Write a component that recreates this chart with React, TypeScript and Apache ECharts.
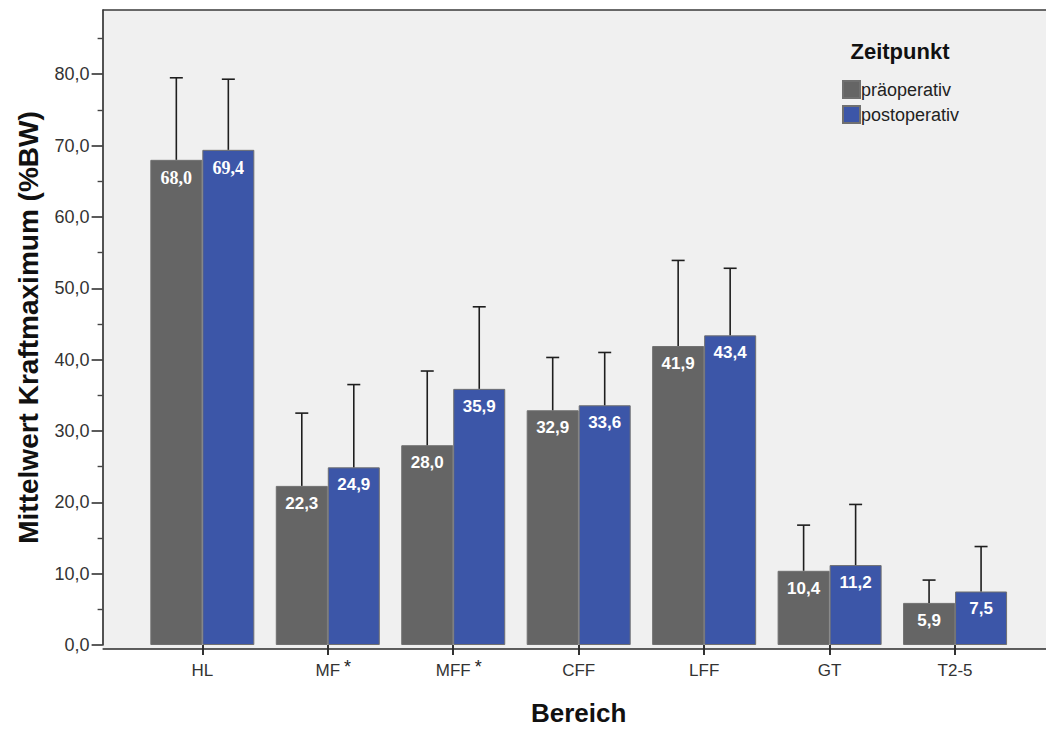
import React, { useEffect, useRef } from "react";
import * as echarts from "echarts";

const categories = ["HL", "MF", "MFF", "CFF", "LFF", "GT", "T2-5"];
const significant = ["MF", "MFF"];
const seriesNames = ["präoperativ", "postoperativ"];
const preValues = [68.0, 22.3, 28.0, 32.9, 41.9, 10.4, 5.9];
const postValues = [69.4, 24.9, 35.9, 33.6, 43.4, 11.2, 7.5];
const preUpper = [79.5, 32.5, 38.4, 40.3, 53.9, 16.8, 9.1];
const postUpper = [79.3, 36.5, 47.4, 41.0, 52.8, 19.7, 13.8];
const yMajorTicks = [0, 10, 20, 30, 40, 50, 60, 70, 80];
const yMinorTicks = [5, 15, 25, 35, 45, 55, 65, 75, 85];
const yMax = 89;

const FONT = '"Liberation Sans", Arial, sans-serif';
const SERIF = '"Liberation Serif", "Times New Roman", serif';
const W = 1046;
const H = 731;
const GRID = { left: 139.6, right: 28.2, top: 10, bottom: 82 };
const FRAME_LEFT = 102.6;
const BAR_W = 52;
const C_PRE = "#656565";
const C_POST = "#3c56a8";
const BORDER = "#707070";

const fmt = (v: number) => v.toFixed(1).replace(".", ",");

function errorSeries(upper: number[], values: number[], dx: number) {
  return {
    type: "custom",
    xAxisIndex: 0,
    yAxisIndex: 0,
    z: 5,
    silent: true,
    encode: { x: 0, y: 1 },
    data: upper.map((u, i) => [i, u, values[i]]),
    renderItem: (params: any, api: any) => {
      const i = api.value(0);
      const top = api.coord([i, api.value(1)]);
      const base = api.coord([i, api.value(2)]);
      const x = top[0] + dx;
      const st = { stroke: "#1e1e1e", lineWidth: 1.6 };
      return {
        type: "group",
        children: [
          { type: "line", shape: { x1: x, y1: base[1], x2: x, y2: top[1] }, style: st },
          { type: "line", shape: { x1: x - 6.5, y1: top[1], x2: x + 6.5, y2: top[1] }, style: st },
        ],
      };
    },
  };
}

function barSeries(name: string, values: number[], color: string) {
  return {
    type: "bar",
    name,
    barWidth: BAR_W,
    barGap: "0%",
    z: 2,
    itemStyle: { color, borderColor: BORDER, borderWidth: 1 },
    label: {
      show: true,
      position: "insideTop",
      distance: 9,
      color: "#ffffff",
      fontWeight: "bold",
      fontSize: 17,
      fontFamily: FONT,
      formatter: (p: any) => fmt(p.value),
    },
    data: values.map((v, i) =>
      i === 0
        ? { value: v, label: { fontFamily: SERIF, fontSize: 18 } }
        : { value: v }
    ),
  };
}

export default function App() {
  const ref = useRef<HTMLDivElement>(null);

  useEffect(() => {
    document.body.style.margin = "0";
    document.body.style.overflow = "hidden";
    document.documentElement.style.overflow = "hidden";
    if (!ref.current) return;
    const chart = echarts.init(ref.current, undefined, { renderer: "svg" });
    const plotBottom = H - GRID.bottom;

    const frameGraphics: any[] = [
      {
        type: "rect",
        z: -10,
        silent: true,
        shape: { x: FRAME_LEFT, y: GRID.top, width: W - FRAME_LEFT, height: plotBottom - GRID.top },
        style: { fill: "#f0f0f0" },
      },
      {
        type: "line",
        z: 10,
        silent: true,
        shape: { x1: FRAME_LEFT, y1: GRID.top, x2: W, y2: GRID.top },
        style: { stroke: "#3a3a3a", lineWidth: 1.5 },
      },
      {
        type: "line",
        z: 10,
        silent: true,
        shape: { x1: FRAME_LEFT, y1: plotBottom, x2: W, y2: plotBottom },
        style: { stroke: "#2a2a2a", lineWidth: 1.6 },
      },
      {
        type: "text",
        z: 10,
        silent: true,
        x: 900,
        y: 51,
        style: {
          text: "Zeitpunkt",
          fontFamily: FONT,
          fontWeight: "bold",
          fontSize: 22,
          fill: "#111",
          align: "center",
          verticalAlign: "middle",
        },
      },
    ];

    const option: any = {
      animation: false,
      backgroundColor: "#ffffff",
      textStyle: { fontFamily: FONT },
      grid: { ...GRID, containLabel: false },
      legend: {
        data: seriesNames,
        orient: "vertical",
        left: 837,
        top: 75,
        icon: "rect",
        itemWidth: 17,
        itemHeight: 17,
        itemGap: 6,
        selectedMode: false,
        textStyle: { fontSize: 18, color: "#222", fontFamily: FONT, padding: [0, 0, 0, -4] },
      },
      xAxis: {
        type: "category",
        data: categories,
        name: "Bereich",
        nameLocation: "middle",
        nameGap: 55,
        nameTextStyle: { fontSize: 26, fontWeight: "bold", color: "#111", fontFamily: FONT },
        axisLine: { show: false },
        axisTick: { show: true, alignWithLabel: true, length: 10, lineStyle: { color: "#333", width: 2 } },
        axisLabel: { margin: 17, fontSize: 17, color: "#333", fontFamily: FONT },
        splitLine: { show: false },
      },
      yAxis: [
        {
          type: "value",
          min: 0,
          max: yMax,
          offset: GRID.left - FRAME_LEFT,
          name: "Mittelwert Kraftmaximum (%BW)",
          nameLocation: "middle",
          nameGap: 60,
          nameTextStyle: { fontSize: 28, fontWeight: "bold", color: "#111", fontFamily: FONT },
          axisLine: { show: true, lineStyle: { color: "#2a2a2a", width: 1.6 } },
          axisTick: { show: true, length: 11, customValues: yMajorTicks, lineStyle: { color: "#333", width: 1.6 } },
          axisLabel: {
            margin: 13,
            fontSize: 18,
            color: "#333",
            fontFamily: FONT,
            customValues: yMajorTicks,
            formatter: (v: number) => fmt(v),
          },
          splitLine: { show: false },
        },
        {
          type: "value",
          min: 0,
          max: yMax,
          offset: GRID.left - FRAME_LEFT,
          position: "left",
          axisLine: { show: false },
          axisTick: { show: true, length: 5, customValues: yMinorTicks, lineStyle: { color: "#444", width: 1.4 } },
          axisLabel: { show: false },
          splitLine: { show: false },
        },
      ],
      series: [
        barSeries(seriesNames[0], preValues, C_PRE),
        barSeries(seriesNames[1], postValues, C_POST),
        errorSeries(preUpper, preValues, -BAR_W / 2),
        errorSeries(postUpper, postValues, BAR_W / 2),
      ],
      graphic: frameGraphics,
    };

    chart.setOption(option);

    // asterisks after significant category labels
    const canvas = document.createElement("canvas");
    const ctx = canvas.getContext("2d");
    if (ctx) ctx.font = `17px ${FONT}`;
    const stars = significant.map((c) => {
      const px = chart.convertToPixel({ xAxisIndex: 0 }, c) as unknown as number;
      const w = ctx ? ctx.measureText(c).width : c.length * 10;
      return {
        type: "text",
        z: 10,
        silent: true,
        x: px + w / 2 + 4,
        y: 667,
        style: {
          text: "*",
          fontFamily: FONT,
          fontSize: 18,
          fill: "#222",
          align: "left",
          verticalAlign: "middle",
        },
      };
    });
    chart.setOption({ graphic: [...frameGraphics, ...stars] });

    return () => chart.dispose();
  }, []);

  return <div ref={ref} style={{ width: W, height: H, overflow: "hidden", display: "block" }} />;
}
